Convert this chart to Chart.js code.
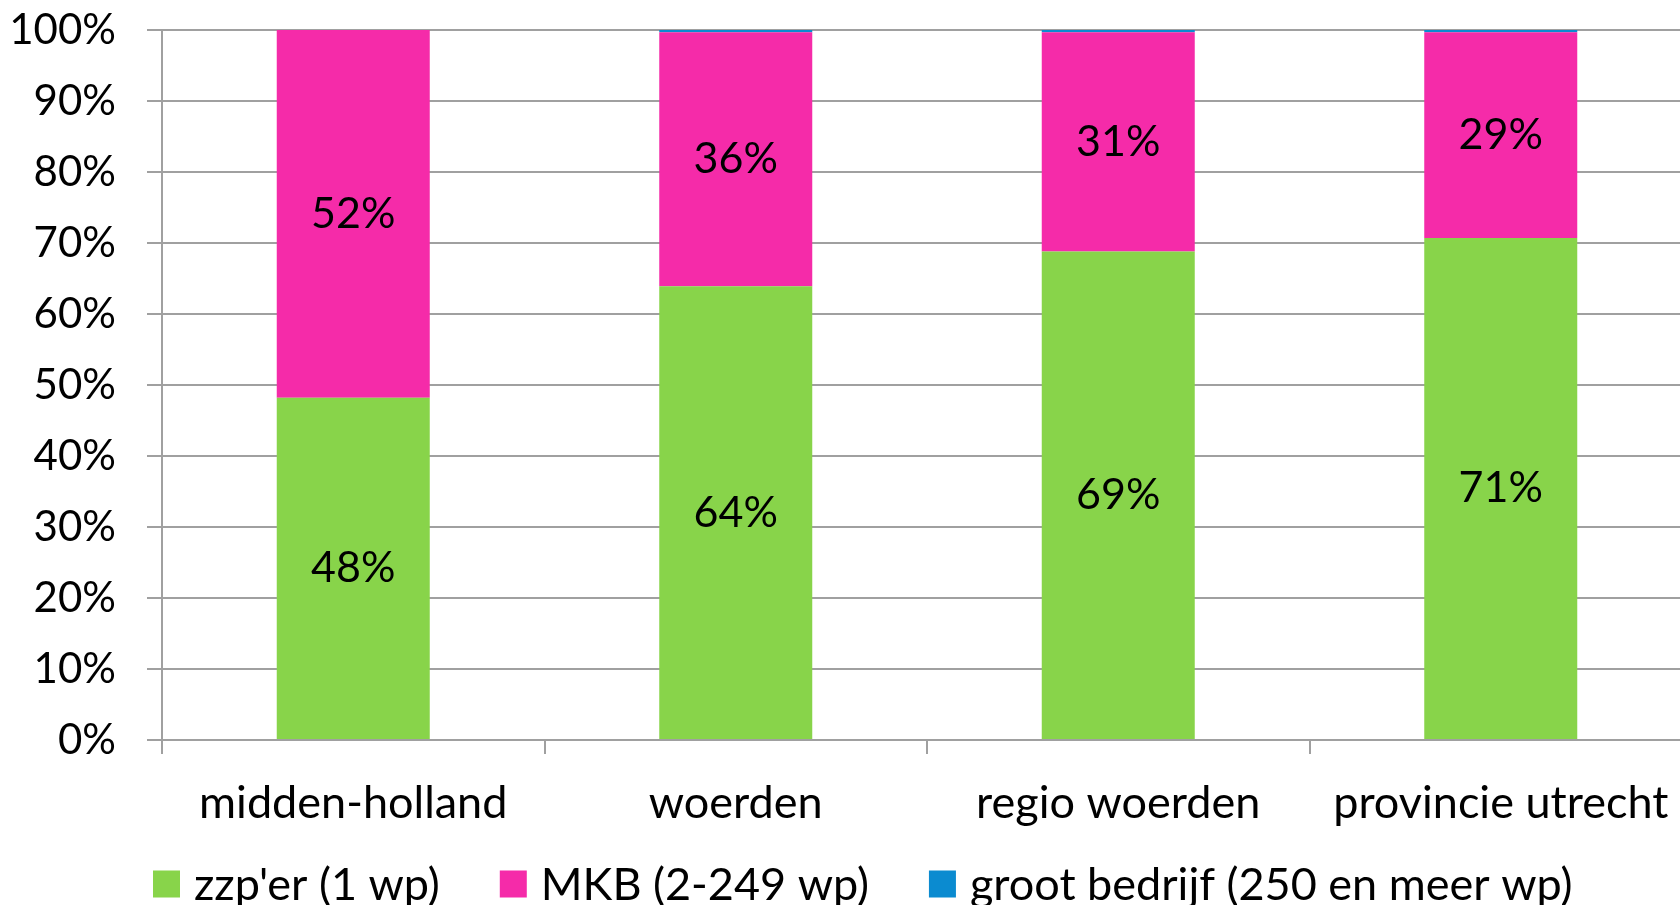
<!DOCTYPE html>
<html>
<head>
<meta charset="utf-8">
<script src="https://cdn.jsdelivr.net/npm/chart.js@4.4.1/dist/chart.umd.min.js"></script>
<style>
  html, body { margin: 0; padding: 0; background: #fff; overflow: hidden; }
  #wrap { width: 1692px; height: 905px; }
</style>
</head>
<body>
<div id="wrap"><canvas id="chart"></canvas></div>
<script>
const categories = ['midden-holland', 'woerden', 'regio woerden', 'provincie utrecht'];
const seriesNames = ["zzp'er (1 wp)", 'MKB (2-249 wp)', 'groot bedrijf (250 en meer wp)'];
const zzp = [48.2, 63.9, 68.8, 70.7];
const mkb = [51.8, 35.8, 30.9, 29.0];
const groot = [0, 0.3, 0.3, 0.3];
const yTicks = [0, 10, 20, 30, 40, 50, 60, 70, 80, 90, 100];

const colors = ['#88d44a', '#f52ba9', '#0b8bd0'];
const FONT = 'Lato';
const grid = '#a0a0a0';

// labels in the middle of each segment (skip the tiny blue one)
const segmentLabels = {
    id: 'segmentLabels',
    afterDatasetsDraw(chart) {
        const ctx = chart.ctx;
        ctx.save();
        ctx.font = `43px ${FONT}`;
        ctx.fillStyle = '#000';
        ctx.textAlign = 'center';
        ctx.textBaseline = 'middle';
        chart.data.datasets.forEach((ds, i) => {
            if (i === 2) return;
            chart.getDatasetMeta(i).data.forEach((bar, j) => {
                const v = ds.data[j];
                if (!v) return;
                const mid = (bar.y + bar.base) / 2;
                ctx.fillText(Math.round(v) + '%', bar.x, mid);
            });
        });
        ctx.restore();
    }
};

// legend row along the bottom, square swatches like the original
const bottomLegend = {
    id: 'bottomLegend',
    afterDraw(chart) {
        const ctx = chart.ctx;
        ctx.save();
        ctx.font = `45px ${FONT}`;
        ctx.textBaseline = 'middle';
        let x = 153;
        const y = 884, box = 27;
        chart.data.datasets.forEach(ds => {
            ctx.fillStyle = ds.backgroundColor;
            ctx.fillRect(x, y - box / 2, box, box);
            ctx.fillStyle = '#000';
            ctx.fillText(ds.label, x + box + 14, y + 1);
            x += box + 14 + ctx.measureText(ds.label).width + 60;
        });
        ctx.restore();
    }
};

new Chart(document.getElementById('chart'), {
    type: 'bar',
    data: {
        labels: categories,
        datasets: [zzp, mkb, groot].map((d, i) => ({
            label: seriesNames[i],
            data: d,
            backgroundColor: colors[i],
            borderWidth: 0,
            barPercentage: 0.4,
            categoryPercentage: 1,
        })),
    },
    options: {
        responsive: true,
        maintainAspectRatio: false,
        animation: false,
        layout: { padding: 0 },
        plugins: { legend: { display: false }, tooltip: { enabled: false } },
        scales: {
            x: {
                stacked: true,
                afterFit: s => { s.height = 165; },
                grid: { display: true, drawOnChartArea: false, drawTicks: true, tickLength: 14, color: grid, lineWidth: 2, offset: true },
                border: { color: grid, width: 2 },
                ticks: { color: '#000', font: { family: FONT, size: 45 }, padding: 22, maxRotation: 0, autoSkip: false },
            },
            y: {
                stacked: true,
                min: 0, max: 100,
                afterFit: s => { s.width = 162; s.paddingTop = 30; s.paddingBottom = 0; },
                afterBuildTicks: s => { s.ticks = yTicks.map(v => ({ value: v })); },
                grid: { color: grid, lineWidth: 2, tickLength: 15 },
                border: { color: grid, width: 2 },
                ticks: { color: '#000', font: { family: FONT, size: 42 }, padding: 31, callback: v => v + '%' },
            },
        },
    },
    plugins: [segmentLabels, bottomLegend],
});
</script>
</body>
</html>
